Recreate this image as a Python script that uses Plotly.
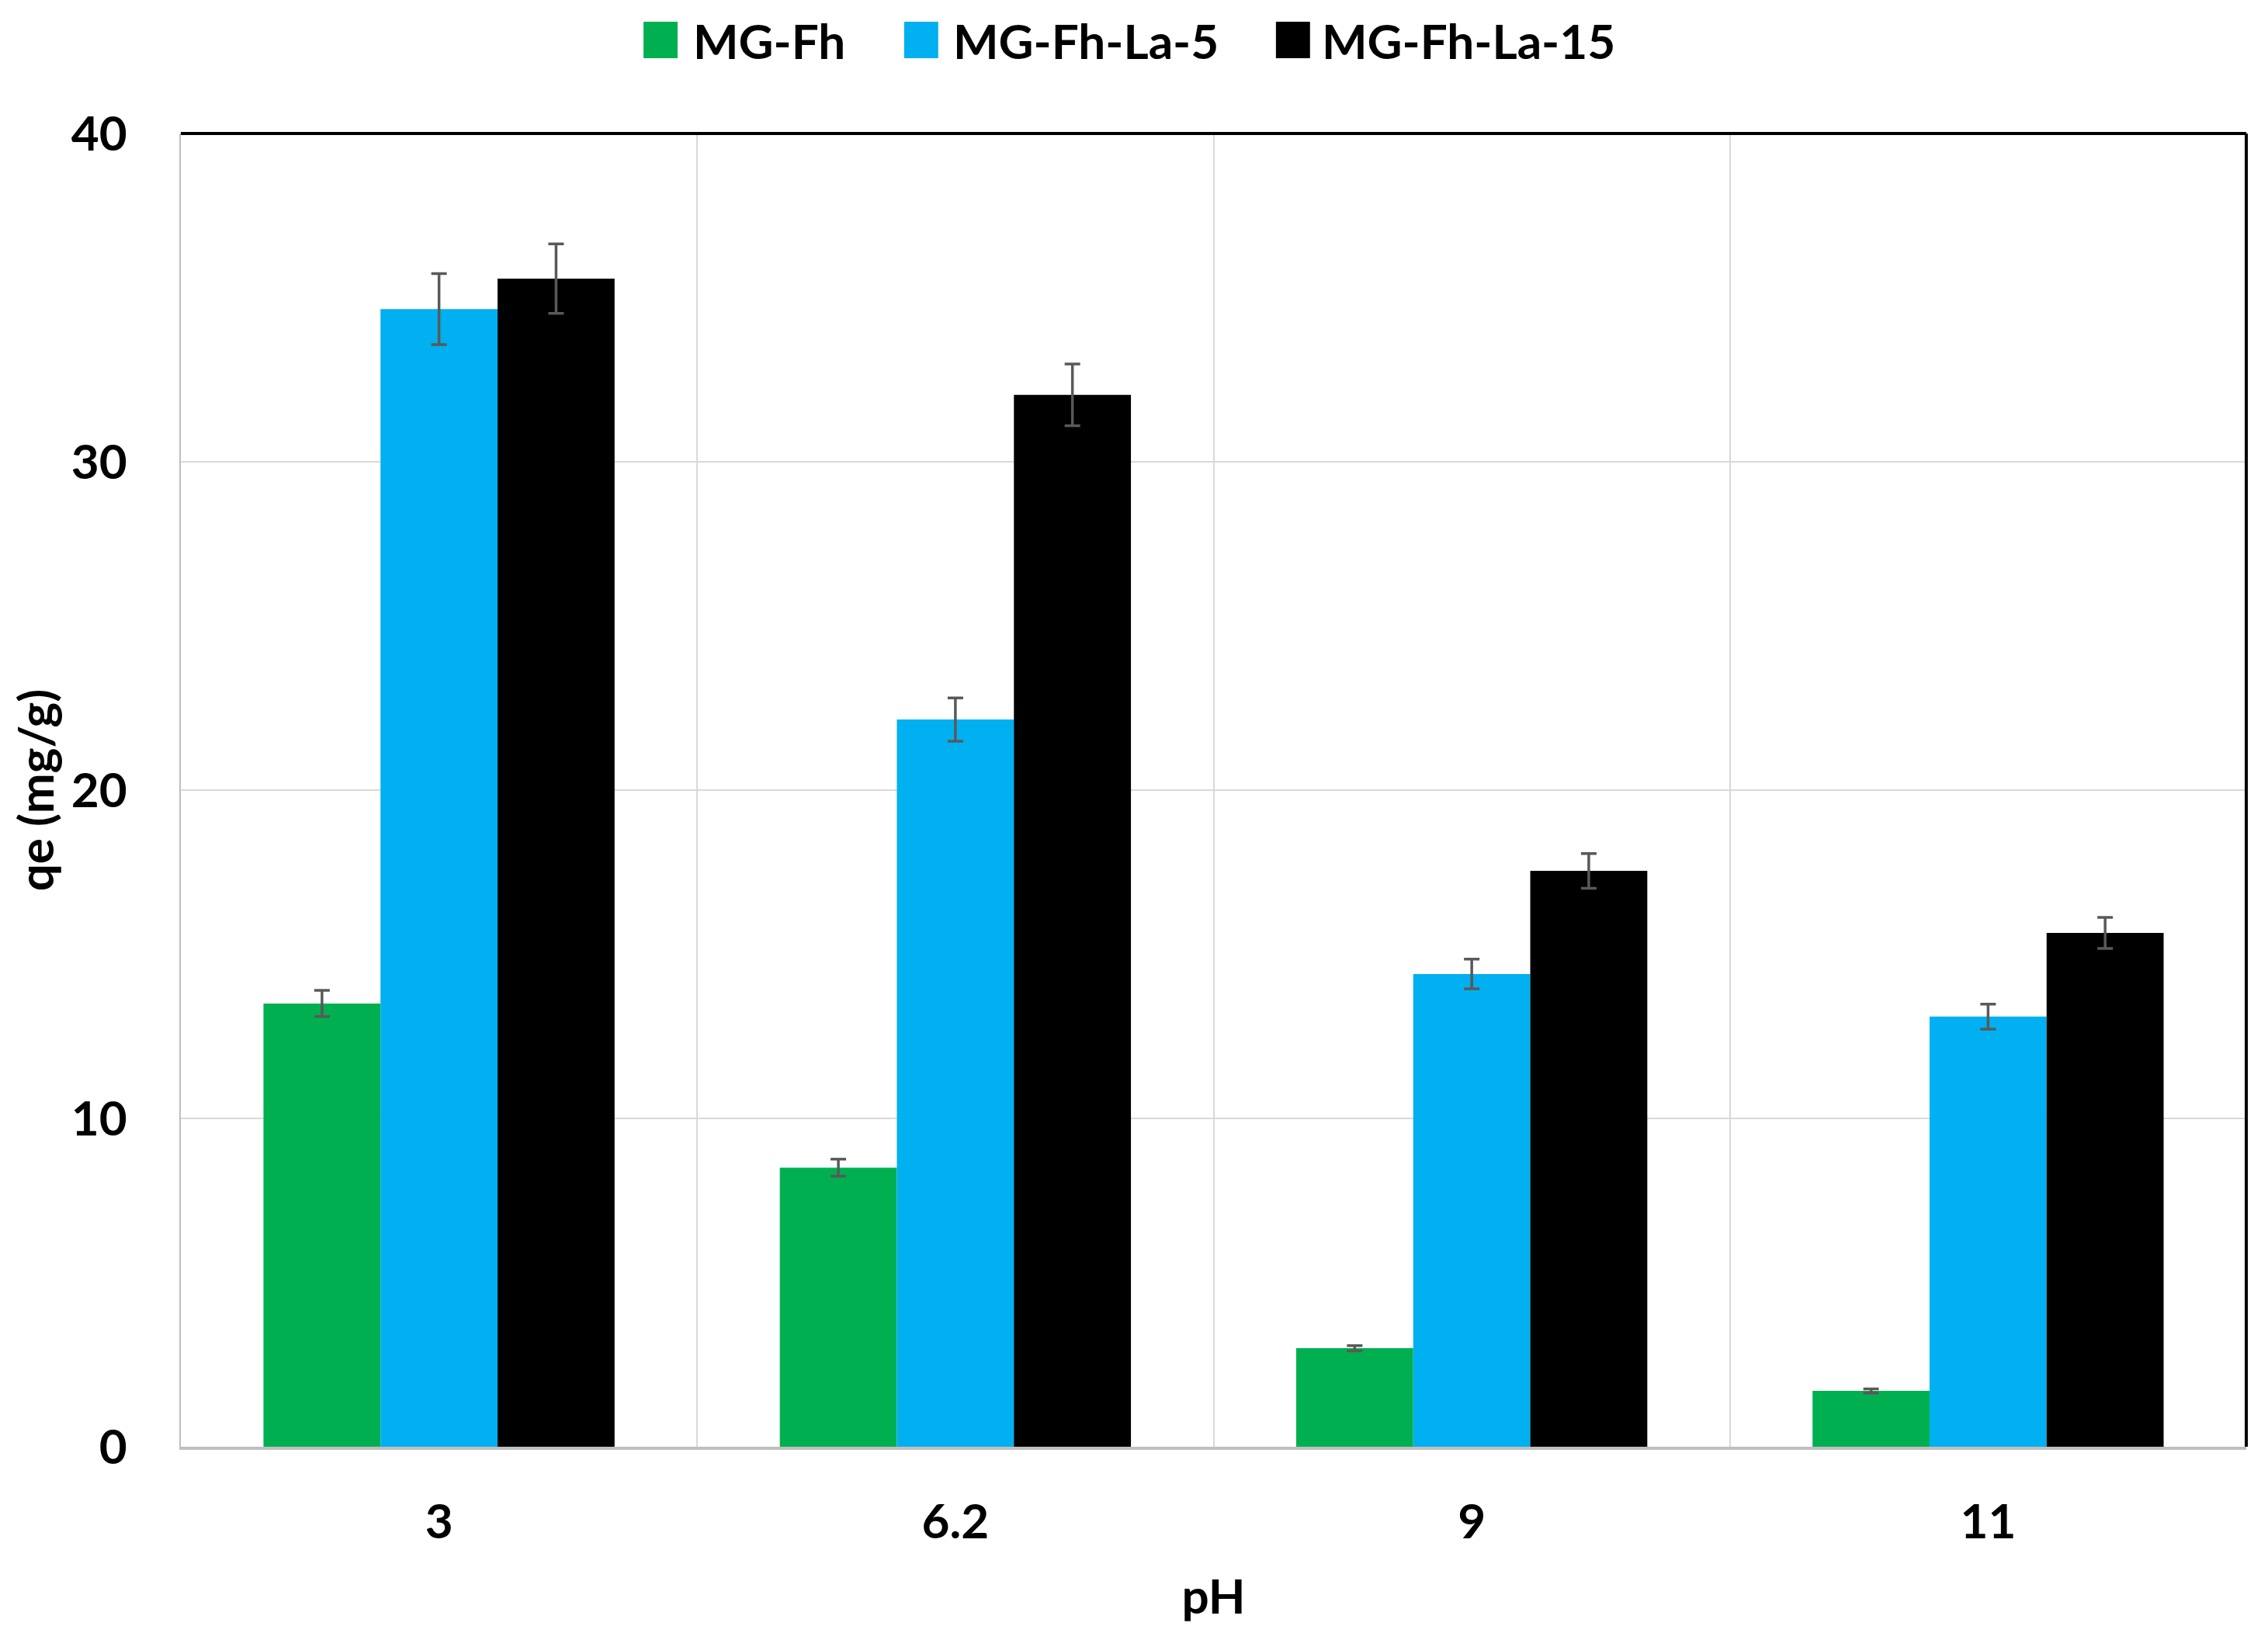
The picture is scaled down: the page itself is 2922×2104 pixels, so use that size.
import plotly.graph_objects as go

categories = ["3", "6.2", "9", "11"]
series_names = ["MG-Fh", "MG-Fh-La-5", "MG-Fh-La-15"]
mg_fh = [13.5, 8.5, 3.0, 1.7]
mg_fh_err = [0.4, 0.26, 0.08, 0.06]
mg_fh_la5 = [34.65, 22.15, 14.4, 13.1]
mg_fh_la5_err = [1.08, 0.66, 0.45, 0.38]
mg_fh_la15 = [35.58, 32.04, 17.54, 15.65]
mg_fh_la15_err = [1.06, 0.94, 0.53, 0.47]
colors = ["#00B050", "#00B0F0", "#000000"]

# legend layout (paper coords): square left edge, text left edge
legend_sq_x = [0.2240, 0.3502, 0.5302]
legend_sq_w = 0.0165
legend_txt_x = [0.2473, 0.3732, 0.5517]
legend_y0, legend_y1 = 1.0573, 1.0851

FONT = "Lato"
fig = go.Figure()
for name, vals, errs, col in zip(series_names,
                                 [mg_fh, mg_fh_la5, mg_fh_la15],
                                 [mg_fh_err, mg_fh_la5_err, mg_fh_la15_err],
                                 colors):
    fig.add_trace(go.Bar(
        x=categories, y=vals, name=name, showlegend=False,
        marker=dict(color=col, line=dict(width=0)),
        error_y=dict(type="data", array=errs, visible=True,
                     color="#595959", thickness=3.5, width=10),
    ))

shapes = [
    dict(type="line", xref="paper", yref="paper", x0=0, x1=1, y0=1, y1=1,
         line=dict(color="black", width=4)),
    dict(type="line", xref="paper", yref="paper", x0=1, x1=1, y0=0, y1=1,
         line=dict(color="black", width=4)),
]
annotations = []
for name, col, sx, tx in zip(series_names, colors, legend_sq_x, legend_txt_x):
    shapes.append(dict(type="rect", xref="paper", yref="paper",
                       x0=sx, x1=sx + legend_sq_w, y0=legend_y0, y1=legend_y1,
                       fillcolor=col, line=dict(width=0)))
    annotations.append(dict(xref="paper", yref="paper", x=tx, y=(legend_y0 + legend_y1) / 2,
                            xanchor="left", yanchor="middle", showarrow=False,
                            text="<b>%s</b>" % name,
                            font=dict(family=FONT, size=62, color="black")))

fig.update_layout(
    width=2922, height=2104,
    paper_bgcolor="white", plot_bgcolor="white",
    barmode="group", bargap=0.32, bargroupgap=0,
    margin=dict(l=225, r=36, t=164, b=248, autoexpand=False),
    font=dict(family=FONT, size=62, color="black"),
    showlegend=False,
    xaxis=dict(
        type="category", tickson="boundaries", automargin=False,
        showgrid=True, gridcolor="#D9D9D9", gridwidth=2,
        showline=True, linecolor="#BFBFBF", linewidth=4,
        ticks="", ticklabelstandoff=40,
        tickfont=dict(family=FONT, size=62, color="black", weight="bold"),
        title=dict(text="<b>pH</b>", font=dict(family=FONT, size=62, color="black"), standoff=42),
        zeroline=False,
    ),
    yaxis=dict(
        range=[0, 40], tickvals=[0, 10, 20, 30, 40], automargin=False,
        showgrid=True, gridcolor="#D9D9D9", gridwidth=2,
        showline=True, linecolor="#BFBFBF", linewidth=2,
        ticks="", ticklabelstandoff=55,
        tickfont=dict(family=FONT, size=62, color="black", weight="bold"),
        title=dict(text="<b>qe (mg/g)</b>", font=dict(family=FONT, size=62, color="black"), standoff=40),
        zeroline=False,
    ),
    shapes=shapes,
    annotations=annotations,
)

fig.write_html("out.html")
